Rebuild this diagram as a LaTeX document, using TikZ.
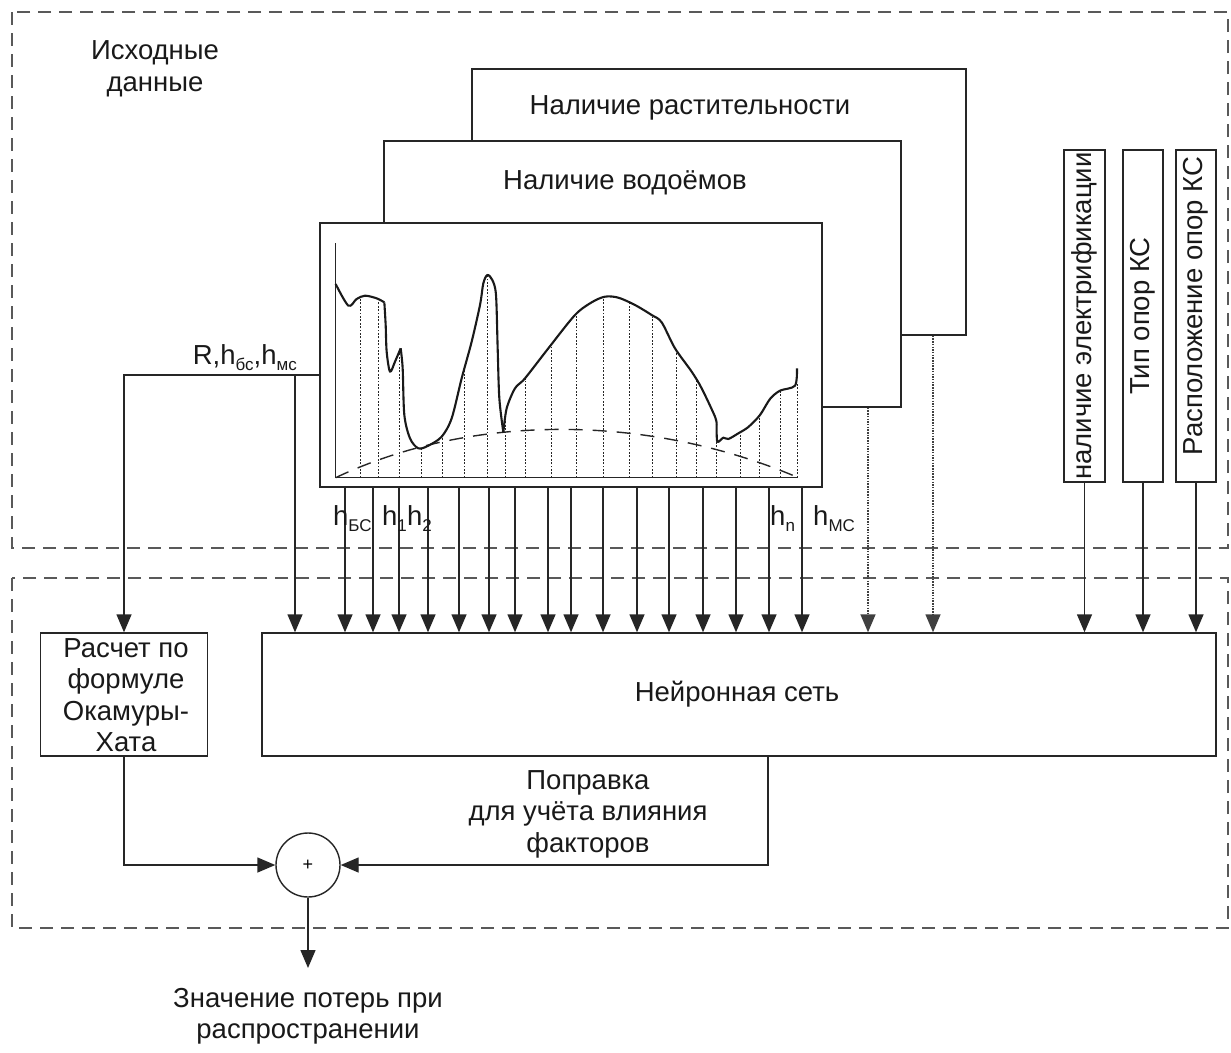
\documentclass[tikz,border=0pt]{standalone}
\usepackage{fontspec}
\setmainfont{Liberation Sans}
\usetikzlibrary{arrows.meta,calc}
\newcommand\sbx[1]{\raisebox{-0.22em}{\fontsize{17}{17}\selectfont #1}}
\begin{document}
\begin{tikzpicture}[x=1pt,y=-1pt,
  ln/.style={line width=1.4pt, draw=black!85},
  box/.style={ln, fill=white, rectangle, inner sep=0pt},
  arr/.style={ln, -{Triangle[length=18pt,width=15pt]}},
  txt/.style={font=\fontsize{27.5}{31.5}\selectfont, align=center, inner sep=0pt, text=black!90},
  region/.style={draw=black!65, line width=1.8pt, dash pattern=on 13pt off 8pt},
  dots/.style={line width=1.5pt, draw=black!75, dash pattern=on 1.5pt off 1.2pt},
  fine/.style={line width=1pt, draw=black!85, dash pattern=on 1.8pt off 1.6pt}]
\useasboundingbox (0,0) rectangle (1231,1052);
\draw[region] (12,12) rectangle (1228,548);
\draw[region] (12,578) rectangle (1228,928);

\node[txt] (src) at (155,69) {Исходные\\данные};

\node[box, minimum width=494pt, minimum height=266pt] (veg) at (719,202) {};
\node[txt] (vegt) at (690,108) {Наличие растительности};
\node[box, minimum width=517pt, minimum height=266pt] (water) at (642.5,274) {};
\node[txt] (watert) at (625,183) {Наличие водоёмов};
\node[box, minimum width=502pt, minimum height=264pt] (terr) at (571,355) {};

% terrain profile
\begin{scope}[shift={(315,215)}, x=0.33333pt, y=-0.33333pt]
  \foreach \X/\Y in {135/248,190/258,252/410,318/700,383/664,447/462,517/180,572/600,632/492,708/395,785/292,865/245,942/265,1012/305,1083/405,1143/495,1205/680,1275/656,1333/605,1395/527,1448/505}
    \draw[fine] (\X,788) -- (\X,\Y);
  \draw[line width=1.4pt, draw=black!85, dash pattern=on 14pt off 10pt] (62,788) .. controls (480,590) and (1010,600) .. (1450,788);
  \draw[line width=1.5pt, draw=black!85] (62,85) -- (62,788) -- (1450,788);
  \begin{scope}[line width=2.1pt, draw=black!90, line join=round]
  \draw plot[smooth, tension=0.5] coordinates {(62,207) (100,272) (125,252) (150,242) (185,250) (208,262)};
  \draw plot[smooth, tension=0.5] coordinates {(208,262) (212,330) (215,410) (225,470) (240,440) (257,400)};
  \draw plot[smooth, tension=0.5] coordinates {(257,400) (263,460) (268,600) (285,670) (310,700) (340,692) (380,665) (410,610) (440,490) (470,380) (495,270) (505,205) (517,180) (532,195) (543,240) (548,400) (553,550) (565,652)};
  \draw plot[smooth, tension=0.5] coordinates {(565,652) (575,580) (600,520) (630,490) (700,400) (780,300) (830,262) (870,245) (910,248) (960,270) (1010,300) (1040,322) (1080,400) (1130,470) (1160,520) (1200,605) (1205,630)};
  \draw plot[smooth, tension=0.5] coordinates {(1205,630) (1207,680) (1225,668) (1240,672) (1270,655) (1300,636) (1335,600) (1365,552) (1395,527) (1440,512) (1446,460)};
  \end{scope}
\end{scope}

% vertical boxes
\node[box, minimum width=41pt, minimum height=332pt] (el) at (1084.5,316) {};
\node[txt, rotate=90] (elt) at (el.center) {наличие электрификации};
\node[box, minimum width=40pt, minimum height=332pt] (tip) at (1143,316) {};
\node[txt, rotate=90] (tipt) at (tip.center) {Тип опор КС};
\node[box, minimum width=40pt, minimum height=332pt] (loc) at (1196,316) {};
\node[txt, rotate=90] (loct) at (1196,306) {Расположение опор КС};

% lower blocks
\node[box, minimum width=954pt, minimum height=123pt] (nn) at (739,694.5) {};
\node[txt] (nnt) at (737,694) {Нейронная сеть};
\node[box, minimum width=167pt, minimum height=123pt] (okh) at (124,694.5) {};
\node[txt] (okht) at (126,695) {Расчет по\\формуле\\Окамуры-\\Хата};
\node[box, circle, minimum size=64pt, font=\fontsize{18}{18}\selectfont] (sum) at (308,865) {+};

% R line
\coordinate (rbend) at (124,375);
\coordinate (rsplit) at (295,375);
\node[txt, anchor=base east] (rlab) at (297,364) {R,h\sbx{бс},h\sbx{мс}};
\draw[arr] (terr.west |- rbend) -- (rbend) -- (okh.north);
\draw[arr] (rsplit) -- (rsplit |- nn.north);

% height arrows
\foreach \x [count=\i] in {345,373,399,428,459,489,515,548,571,603,637,669,703,736,769,802} {
  \coordinate (t\i) at (\x,0);
  \draw[arr] (t\i |- terr.south) -- (t\i |- nn.north);
}
\node[txt, anchor=base west] (hbs) at (333,525) {h\sbx{БС}};
\node[txt, anchor=base west] (h1) at (382,525) {h\sbx{1}};
\node[txt, anchor=base west] (h2) at (407,525) {h\sbx{2}};
\node[txt, anchor=base west] (hn) at (770,525) {h\sbx{n}};
\node[txt, anchor=base west] (hms) at (813,525) {h\sbx{МС}};

% dotted arrows
\coordinate (dw) at (868,0);
\coordinate (dv) at (933,0);
\draw[arr, dots] (dw |- water.south) -- (dw |- nn.north);
\draw[arr, dots] (dv |- veg.south) -- (dv |- nn.north);

% vertical box arrows
\draw[arr] (el.south) -- (el.south |- nn.north);
\draw[arr] (tip.south) -- (tip.south |- nn.north);
\draw[arr] (loc.south) -- (loc.south |- nn.north);

% bottom
\coordinate (nb) at (768,0);
\draw[arr] (okh.south) |- (sum.west);
\draw[arr] (nb |- nn.south) |- (sum.east);
\node[txt] (popr) at (588,814) {Поправка\\для учёта влияния\\факторов};
\coordinate (outp) at (308,968);
\draw[arr] (sum.south) -- (outp);
\node[txt] (outt) at (308,1016) {Значение потерь при\\распространении};
\end{tikzpicture}
\end{document}
